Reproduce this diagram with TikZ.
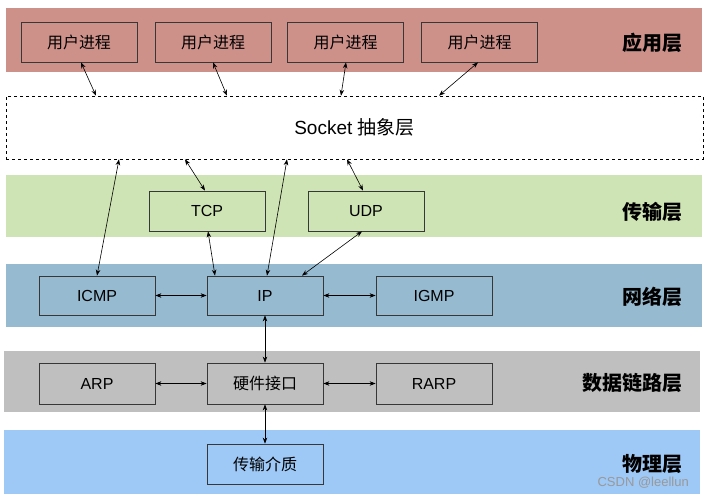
\documentclass[tikz,border=0pt]{standalone}
\usepackage{fontspec}
\setmainfont{Liberation Sans}
\newfontfamily\cjk{Noto Sans CJK SC}
\usetikzlibrary{arrows.meta}
\definecolor{appc}{RGB}{205,145,138}
\definecolor{trac}{RGB}{207,228,180}
\definecolor{netc}{RGB}{150,186,208}
\definecolor{linkc}{RGB}{191,191,191}
\definecolor{phyc}{RGB}{158,200,245}
\definecolor{boxc}{RGB}{55,55,55}
\tikzset{
  band/.style={draw=none,inner sep=0},
  boxnode/.style={draw=boxc,line width=0.8pt,minimum width=116pt,minimum height=40pt,inner sep=0pt,font=\fontsize{16}{18}\selectfont},
  layerlabel/.style={anchor=east,inner sep=0pt,font=\fontsize{20}{22}\selectfont\cjk\bfseries},
  link/.style={{Stealth[length=6pt,width=4.5pt]}-{Stealth[length=6pt,width=4.5pt]},line width=0.6pt,black}
}
\begin{document}
\begin{tikzpicture}[x=1pt,y=-1pt]
\useasboundingbox (0,0) rectangle (705,498);
\fill[white] (0,0) rectangle (705,498);
% bands
\fill[appc] (6,8) rectangle (702,72);
\fill[trac] (6,175) rectangle (702,237);
\fill[netc] (6,264) rectangle (702,327);
\fill[linkc] (4,351) rectangle (700,412);
\fill[phyc] (4,430) rectangle (700,494);
% layer labels
\node[layerlabel] (lapp) at (683,43) {应用层};
\node[layerlabel] (ltra) at (683,212) {传输层};
\node[layerlabel] (lnet) at (683,297) {网络层};
\node[layerlabel] (llink) at (683,383) {数据链路层};
\node[layerlabel] (lphy) at (683,464) {物理层};
% app boxes
\node[boxnode] (u1) at (79,42) {\cjk 用户进程};
\node[boxnode] (u2) at (213,42) {\cjk 用户进程};
\node[boxnode] (u3) at (345.5,42) {\cjk 用户进程};
\node[boxnode] (u4) at (479.5,42) {\cjk 用户进程};
% socket
\node[draw=black,dashed,line width=0.6pt,minimum width=697pt,minimum height=63pt,inner sep=0pt,font=\fontsize{19}{22}\selectfont] (sock) at (354.5,127.5) {Socket {\cjk 抽象层}};
% transport
\node[boxnode] (tcp) at (207,211) {TCP};
\node[boxnode] (udp) at (366,211) {UDP};
% network
\node[boxnode,minimum height=39pt] (icmp) at (97,295.5) {ICMP};
\node[boxnode,minimum height=39pt] (ip) at (265,295.5) {IP};
\node[boxnode,minimum height=39pt] (igmp) at (434,295.5) {IGMP};
% link
\node[boxnode,minimum height=41pt] (arp) at (97,383.5) {ARP};
\node[boxnode,minimum height=41pt] (hw) at (265,383.5) {\cjk 硬件接口};
\node[boxnode,minimum height=41pt] (rarp) at (434,383.5) {RARP};
% physical
\node[boxnode] (med) at (265,464) {\cjk 传输介质};
% watermark
\node[anchor=east,inner sep=0pt,text=black!40,font=\fontsize{13}{15}\selectfont] (wm) at (689,483) {CSDN @leellun};
% arrows
\draw[link] ([xshift=2pt]u1.south) -- ([xshift=-258.5pt]sock.north);
\draw[link] ([xshift=0pt]u2.south) -- ([xshift=-127.5pt]sock.north);
\draw[link] ([xshift=0.5pt]u3.south) -- ([xshift=-13.5pt]sock.north);
\draw[link] ([xshift=-1.5pt]u4.south) -- ([xshift=84.5pt]sock.north);
\draw[link] ([xshift=-235.5pt]sock.south) -- (icmp.north);
\draw[link] ([xshift=-169.5pt]sock.south) -- ([xshift=-2pt]tcp.north);
\draw[link] ([xshift=-67.5pt]sock.south) -- ([xshift=2pt]ip.north);
\draw[link] ([xshift=-7.5pt]sock.south) -- ([xshift=-3pt]udp.north);
\draw[link] ([xshift=1pt]tcp.south) -- ([xshift=-50pt]ip.north);
\draw[link] ([xshift=-4pt]udp.south) -- ([xshift=37pt]ip.north);
\draw[link] (icmp.east) -- (ip.west);
\draw[link] (ip.east) -- (igmp.west);
\draw[link] (ip.south) -- (hw.north);
\draw[link] (arp.east) -- (hw.west);
\draw[link] (hw.east) -- (rarp.west);
\draw[link] (hw.south) -- (med.north);
\end{tikzpicture}
\end{document}
